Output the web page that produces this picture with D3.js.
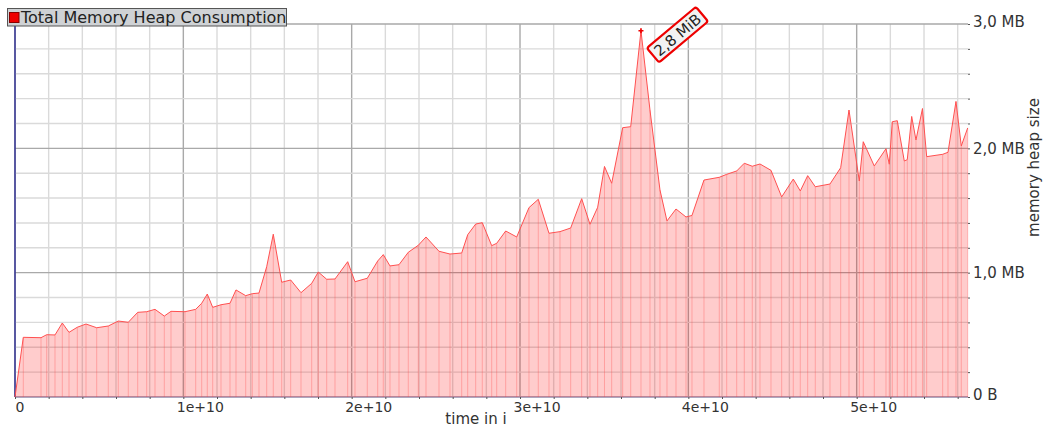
<!DOCTYPE html>
<html>
<head>
<meta charset="utf-8">
<script src="https://cdn.jsdelivr.net/npm/d3@7"></script>
<style>
  body { margin: 0; background: #fff; }
  svg { display: block; font-family: "DejaVu Sans", sans-serif; }
</style>
</head>
<body>
<script>
// snapshot times, in units of 1e9 instructions
var timeG = [0, 0.493, 1.545, 1.883, 2.376, 2.810, 3.208, 3.701, 4.218, 4.853,
  5.542, 6.136, 6.730, 7.289, 7.823, 8.316, 8.869, 9.267, 10.099, 10.734,
  11.091, 11.423, 11.744, 12.237, 12.772, 13.128, 13.704, 14.096, 14.494, 14.952,
  15.344, 15.843, 16.377, 16.989, 17.625, 18.017, 18.516, 19.009, 19.763, 20.197,
  20.928, 21.546, 21.878, 22.276, 22.811, 23.363, 23.957, 24.415, 25.187, 25.841,
  26.536, 26.892, 27.367, 27.759, 28.318, 28.615, 29.149, 29.803, 30.533, 31.086,
  31.721, 32.375, 33.010, 33.664, 34.157, 34.614, 35.019, 35.446, 36.099, 36.575,
  37.186, 37.721, 38.315, 38.731, 39.266, 39.860, 40.216, 40.929, 41.838, 42.278,
  42.872, 43.323, 43.798, 44.256, 44.909, 45.545, 46.234, 46.650, 47.089, 47.541,
  48.414, 49.049, 49.543, 50.154, 50.392, 51.045, 51.740, 51.936, 52.114, 52.412,
  52.828, 53.006, 53.267, 53.523, 53.909, 54.158, 55.109, 55.424, 55.899, 56.213,
  56.594];

// total heap at each snapshot, MB
var heapMB = [0, 0.480, 0.477, 0.501, 0.499, 0.595, 0.520, 0.561, 0.587, 0.557,
  0.571, 0.611, 0.601, 0.681, 0.686, 0.705, 0.651, 0.689, 0.686, 0.705,
  0.754, 0.828, 0.721, 0.742, 0.754, 0.861, 0.815, 0.831, 0.836, 1.048,
  1.309, 0.923, 0.941, 0.839, 0.914, 1.005, 0.947, 0.949, 1.088, 0.927,
  0.955, 1.094, 1.145, 1.054, 1.064, 1.164, 1.220, 1.287, 1.172, 1.150,
  1.158, 1.305, 1.391, 1.402, 1.217, 1.236, 1.335, 1.287, 1.523, 1.590,
  1.317, 1.330, 1.359, 1.595, 1.389, 1.526, 1.854, 1.719, 2.166, 2.174,
  2.946, 2.308, 1.665, 1.416, 1.512, 1.448, 1.460, 1.745, 1.767, 1.791,
  1.818, 1.880, 1.856, 1.874, 1.823, 1.609, 1.753, 1.657, 1.780, 1.691,
  1.713, 1.844, 2.308, 1.737, 2.053, 1.858, 1.997, 1.872, 2.214, 2.222,
  1.898, 1.909, 2.256, 2.067, 2.320, 1.933, 1.952, 1.968, 2.377, 2.019,
  2.164];

var xTickValues = [0, 1e10, 2e10, 3e10, 4e10, 5e10];
var xTickLabels = ["0", "1e+10", "2e+10", "3e+10", "4e+10", "5e+10"];
var yTickValues = [0, 1, 2, 3];
var yTickLabels = ["0 B", "1,0 MB", "2,0 MB", "3,0 MB"];
var seriesName = "Total Memory Heap Consumption";
var xTitle = "time in i";
var yTitle = "memory heap size";

var W = 1043, H = 428;
var plotL = 15, plotR = 968, plotT = 24, plotB = 397;

var data = timeG.map(function (t, i) {
    return {t: t * 1e9, m: heapMB[i]};
});

var x = d3.scaleLinear().domain([0, 5.6613e10]).range([plotL, plotR]);
var y = d3.scaleLinear().domain([0, 3]).range([plotB, plotT]);

var xMinor = d3.range(0, 29).map(function (i) { return i * 0.2e10; });
var yMinor = d3.range(0, 16).map(function (i) { return i * 0.2; });

var svg = d3.select('body').append('svg')
    .attr('width', W)
    .attr('height', H);

function isMajorX(v) { return Math.abs(v / 1e10 - Math.round(v / 1e10)) < 1e-6; }
function isMajorY(v) { return Math.abs(v - Math.round(v)) < 1e-6; }

// grid
var grid = svg.append('g');
grid.selectAll('line.vx')
    .data(xMinor)
    .enter().append('line')
    .attr('x1', function (d) { return x(d); })
    .attr('x2', function (d) { return x(d); })
    .attr('y1', plotT)
    .attr('y2', plotB)
    .attr('stroke', function (d) { return isMajorX(d) ? '#a9a9a9' : '#dadada'; })
    .attr('stroke-width', 1.4);
grid.selectAll('line.hy')
    .data(yMinor)
    .enter().append('line')
    .attr('x1', plotL)
    .attr('x2', plotR)
    .attr('y1', function (d) { return y(d); })
    .attr('y2', function (d) { return y(d); })
    .attr('stroke', function (d) { return isMajorY(d) ? '#a9a9a9' : '#dadada'; })
    .attr('stroke-width', 1.4);

// axis lines
svg.append('line')
    .attr('x1', plotL).attr('x2', plotL)
    .attr('y1', plotT).attr('y2', plotB)
    .attr('stroke', '#10108a').attr('stroke-width', 1.2);
svg.append('line')
    .attr('x1', plotL).attr('x2', plotR)
    .attr('y1', plotB).attr('y2', plotB)
    .attr('stroke', '#9a90c0').attr('stroke-width', 1);

// area, snapshot lines, outline
var area = d3.area()
    .x(function (d) { return x(d.t); })
    .y0(y(0))
    .y1(function (d) { return y(d.m); });
var line = d3.line()
    .x(function (d) { return x(d.t); })
    .y(function (d) { return y(d.m); });

svg.append('path')
    .datum(data)
    .attr('d', area)
    .attr('fill', 'rgba(255,0,0,0.2)');

svg.selectAll('line.snap')
    .data(data)
    .enter().append('line')
    .attr('x1', function (d) { return x(d.t); })
    .attr('x2', function (d) { return x(d.t); })
    .attr('y1', y(0))
    .attr('y2', function (d) { return y(d.m); })
    .attr('stroke', 'rgba(255,60,60,0.3)')
    .attr('stroke-width', 1);

svg.append('path')
    .datum(data)
    .attr('d', line)
    .attr('fill', 'none')
    .attr('stroke', '#ff5050')
    .attr('stroke-width', 1);

// x axis
var xAxis = d3.axisBottom(x)
    .tickValues(xMinor)
    .tickSize(2)
    .tickPadding(2)
    .tickFormat(function (d) {
        var k = xTickValues.indexOf(d);
        return k >= 0 && isMajorX(d) ? xTickLabels[k] : '';
    });
var gx = svg.append('g')
    .attr('transform', 'translate(0,' + plotB + ')')
    .call(xAxis);
gx.select('.domain').remove();
gx.selectAll('.tick line').attr('stroke', '#555');
gx.selectAll('.tick text')
    .attr('font-family', 'DejaVu Sans')
    .attr('font-size', 14)
    .attr('fill', '#333')
    .attr('text-anchor', 'start')
    .attr('dy', null)
    .attr('y', 14.5)
    .attr('x', function (d) { return d === 0 ? 0 : -7; });

// y axis on right
var yAxis = d3.axisRight(y)
    .tickValues(yMinor)
    .tickSize(2)
    .tickPadding(3)
    .tickFormat(function (d) {
        var k = yTickValues.indexOf(Math.round(d * 10) / 10);
        return isMajorY(d) && k >= 0 ? yTickLabels[k] : '';
    });
var gy = svg.append('g')
    .attr('transform', 'translate(' + plotR + ',0)')
    .call(yAxis);
gy.select('.domain').remove();
gy.selectAll('.tick line').attr('stroke', '#555');
gy.selectAll('.tick text')
    .attr('font-family', 'DejaVu Sans')
    .attr('font-size', 15)
    .attr('fill', '#333')
    .attr('dy', null)
    .attr('y', function (d) { return (d === 0 || d === 3) ? 2.5 : 5.3; });

// axis titles
svg.append('text')
    .attr('x', 476)
    .attr('y', 424)
    .attr('text-anchor', 'middle')
    .attr('font-size', 15)
    .attr('fill', '#333')
    .text(xTitle);
svg.append('text')
    .attr('transform', 'translate(1038.5,167.5) rotate(-90)')
    .attr('text-anchor', 'middle')
    .attr('font-size', 15)
    .attr('fill', '#333')
    .text(yTitle);

// legend
var legend = svg.append('g');
legend.append('rect')
    .attr('x', 7.5).attr('y', 8.5)
    .attr('width', 279).attr('height', 17.5)
    .attr('fill', '#cfd2d5')
    .attr('stroke', '#555');
legend.append('rect')
    .attr('x', 9.5).attr('y', 12.5)
    .attr('width', 9.5).attr('height', 10)
    .attr('fill', '#ee0000')
    .attr('stroke', '#800');
legend.append('text')
    .attr('x', 21)
    .attr('y', 23)
    .attr('font-size', 16)
    .attr('fill', '#222')
    .text(seriesName);

// peak marker + label
var peak = data.reduce(function (a, b) { return b.m > a.m ? b : a; });
var px = x(peak.t), py = y(peak.m);
svg.append('path')
    .attr('transform', 'translate(' + px + ',' + py + ')')
    .attr('d', d3.symbol().type(d3.symbolCross).size(14)())
    .attr('fill', '#e00');
var mib = peak.m * 1e6 / 1048576;
var peakText = mib.toFixed(1).replace('.', ',') + ' MiB';
var pl = svg.append('g')
    .attr('transform', 'translate(' + (px + 36.5) + ',' + (py + 4) + ') rotate(-40)');
pl.append('rect')
    .attr('x', -32).attr('y', -9.5)
    .attr('width', 64).attr('height', 19)
    .attr('rx', 2.5)
    .attr('fill', '#f2f2f2')
    .attr('stroke', '#ee0000')
    .attr('stroke-width', 2.2);
pl.append('text')
    .attr('x', 0).attr('y', 5.5)
    .attr('text-anchor', 'middle')
    .attr('font-size', 15)
    .attr('fill', '#222')
    .text(peakText);
</script>
</body>
</html>
